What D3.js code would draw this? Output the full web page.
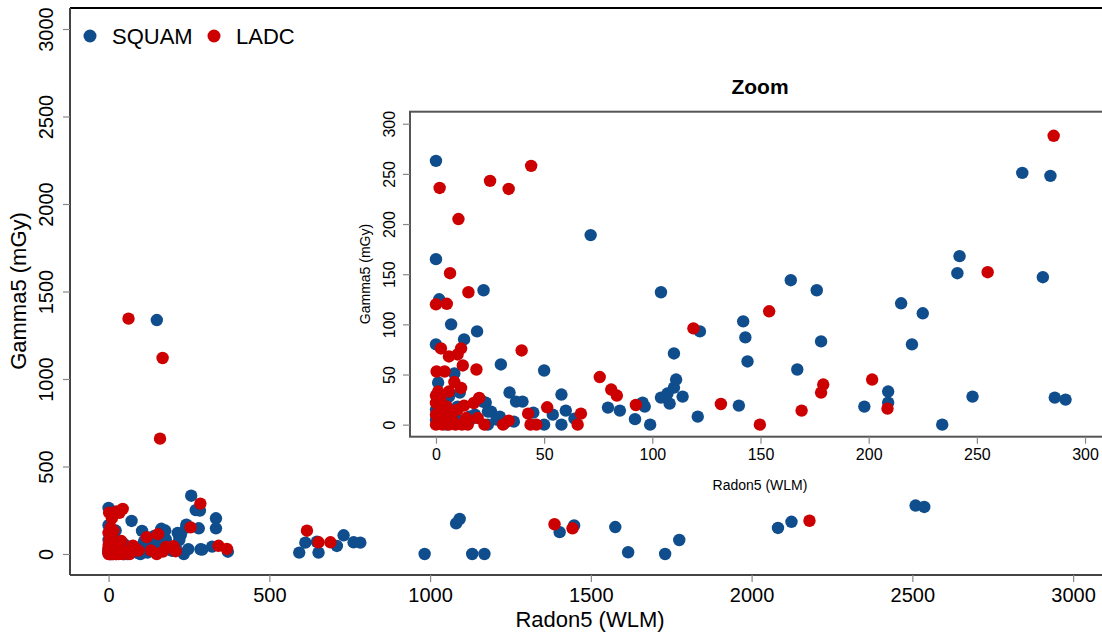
<!DOCTYPE html>
<html>
<head>
<meta charset="utf-8">
<script src="https://cdn.jsdelivr.net/npm/d3@7"></script>
<style>
  body { margin: 0; background: #fff; }
  svg { font-family: "Liberation Sans", Arial, sans-serif; }
</style>
</head>
<body>
<svg id="chart" width="1102" height="636"></svg>
<script>
// [radon (WLM), gamma (mGy)] pairs
let squam = [
  [0,263],[0,165],[1.5,125],[7,100],[0,80],[13,85],[19,93],[22,134],[71.5,189],[30,60],
  [50,54],[1,42],[8.5,51],[11,32],[34,32],[37,23],[40,23],[23,22],[25.5,13],[29.5,8],
  [36,3],[45,12],[50,0],[54,10],[58,30],[60,14],[58,0],[64,6],[24,0],[9,12],[15.5,8],
  [79.5,17],[85,14],[104,132],[271,251],[284,248],[242,168],[241,151],[280.5,147],
  [164,144],[176,134],[215,121],[225,111],[220,80],[142,103],[143,87],[144,63],[178,83],
  [122,93],[110,71],[167,55],[111,45],[110,37],[107,31],[104,27],[108,21],[114,28],
  [95.5,22],[96.5,18],[92,5.5],[99,0],[121,8],[140,19],[198,18],[209,33],[209,22],
  [234,0],[248,28],[286,27],[291,25],
  [0,15],[0,5],[2,10],[5,0],[8.5,8],[12,3],[18,10],[21.6,23],[24,13],[3,20],[6,28],
  [10,18],[16,5],[28,5],[32,2],
  [150,1337],[257,333],[334,204],[334,147],[371,13],[322,42],[593,8],[612,65],[648,70],
  [653,8],[731,107],[710,46],[762,67],[783,65],[983,0],[1081,175],[1092,200],[1131,0],
  [1169,0],[1403,125],[1448,163],[1576,154],[1616,10],[1731,0],[1775,80],[2082,149],
  [2124,184],[2510,277],[2537,269]
];
let ladc = [
  [1.7,236],[25,243],[33.6,235],[44,258],[10.4,205],[6.5,151],[15,132],[0,120],[5,120.5],
  [2.3,76],[6,68],[10,70],[11.6,76],[12.4,59],[18.7,55],[39.6,74],[0.3,53],[4,53],
  [8.5,42.5],[11.6,36.6],[0,29],[6,33],[13,19],[17.5,21.6],[20,26.6],[0,21.6],[3,15],
  [0,10],[4,10],[1.5,5],[6,0],[0,0],[7,10],[14,6.6],[14.7,0],[19.3,6.6],[22.4,0],[31,0],
  [33.6,4],[42.6,11],[43.7,0],[46.4,0],[51.4,17.3],[65.5,0],[67,11],[75.7,47.5],[81,35],
  [83.6,29],[285.5,288],[255,152],[154,113],[119,96],[201.6,45],[179,40],[178,32],
  [169,14],[208.7,16],[149.7,0],[131.7,20.6],[92.4,19.6],
  [2,25],[5,18],[8,3],[10,15],[3,0],[9,0],[1,33],[12,0],
  [62,1345],[168,1120],[160,659],[342,47],[368,29],[617,133],[653,67],[690,67],
  [1387,170],[1443,147],[2180,190]
];
let mainTicks = [0, 500, 1000, 1500, 2000, 2500, 3000];
let zoomTicks = [0, 50, 100, 150, 200, 250, 300];
let groups = ["SQUAM", "LADC"];
let colors = ["#0f4d8c", "#cc0000"];

let svg = d3.select("#chart");

function panel(box, xDomain, yDomain) {
    let x = d3.scaleLinear().domain(xDomain).range([box.left, box.right]);
    let y = d3.scaleLinear().domain(yDomain).range([box.bottom, box.top]);
    return {x, y};
}

function drawPoints(g, sc, data, color, inRange) {
    g.selectAll(null)
        .data(data.filter(inRange))
        .enter().append("circle")
        .attr("cx", d => sc.x(d[0]))
        .attr("cy", d => sc.y(d[1]))
        .attr("r", 6.2)
        .attr("fill", color);
}

function drawAxes(sc, box, ticks, opt) {
    let xa = svg.append("g")
        .attr("transform", "translate(0," + box.bottom + ")")
        .call(d3.axisBottom(sc.x).tickValues(ticks).tickSize(opt.tick).tickPadding(opt.pad).tickFormat(d3.format("d")));
    let ya = svg.append("g")
        .attr("transform", "translate(" + box.left + ",0)")
        .call(d3.axisLeft(sc.y).tickValues(ticks).tickSize(opt.tick).tickFormat(d3.format("d")));
    [xa, ya].forEach(a => {
        a.select(".domain").remove();
        a.selectAll(".tick line").attr("stroke", "#888").attr("stroke-width", 1.2);
        a.selectAll(".tick text").attr("font-size", opt.font).attr("fill", "#000");
    });
    // R style: y labels turned to run up the axis
    ya.selectAll(".tick text")
        .attr("text-anchor", "middle")
        .attr("x", -opt.ylab)
        .attr("y", 0)
        .attr("dy", "0.35em")
        .attr("transform", "rotate(-90," + (-opt.ylab) + ",0)");
}

// main plot
let mainBox = {left: 70, right: 1111.7, top: 8, bottom: 575};
let m = panel(mainBox, [-120, 3120], [-120, 3120]);

let mainG = svg.append("g");
drawPoints(mainG, m, squam, colors[0], d => true);
drawPoints(mainG, m, ladc, colors[1], d => true);

svg.append("line").attr("x1", mainBox.left).attr("x2", mainBox.right)
    .attr("y1", mainBox.top).attr("y2", mainBox.top).attr("stroke", "#000").attr("stroke-width", 2);
svg.append("line").attr("x1", mainBox.left).attr("x2", mainBox.left)
    .attr("y1", mainBox.top).attr("y2", mainBox.bottom).attr("stroke", "#444").attr("stroke-width", 2);
svg.append("line").attr("x1", mainBox.left).attr("x2", mainBox.right)
    .attr("y1", mainBox.bottom).attr("y2", mainBox.bottom).attr("stroke", "#444").attr("stroke-width", 2);

drawAxes(m, mainBox, mainTicks, {tick: 7, pad: 6, font: 20, ylab: 24.5});

svg.append("text").attr("x", 590).attr("y", 627).attr("text-anchor", "middle")
    .attr("font-size", 22).text("Radon5 (WLM)");
svg.append("text").attr("transform", "translate(26,291) rotate(-90)").attr("text-anchor", "middle")
    .attr("font-size", 22).text("Gamma5 (mGy)");

// legend
let leg = svg.append("g");
groups.forEach((name, i) => {
    let lx = [90, 214][i];
    leg.append("circle").attr("cx", lx).attr("cy", 36).attr("r", 6.5).attr("fill", colors[i]);
    leg.append("text").attr("x", lx + 22).attr("y", 44).attr("font-size", 22).text(name);
});

// inset "Zoom"
let zBox = {left: 410, right: 1111, top: 111.7, bottom: 436.7};
let z = panel(zBox, [-12, 312], [-12, 312]);

svg.append("rect").attr("x", zBox.left).attr("y", zBox.top)
    .attr("width", zBox.right - zBox.left).attr("height", zBox.bottom - zBox.top)
    .attr("fill", "#fff");

let zG = svg.append("g");
let inZoom = d => d[0] <= 312 && d[1] <= 312;
drawPoints(zG, z, squam, colors[0], inZoom);
drawPoints(zG, z, ladc, colors[1], inZoom);

svg.append("rect").attr("x", zBox.left).attr("y", zBox.top)
    .attr("width", zBox.right - zBox.left).attr("height", zBox.bottom - zBox.top)
    .attr("fill", "none").attr("stroke", "#555").attr("stroke-width", 2);

drawAxes(z, zBox, zoomTicks, {tick: 7, pad: 5, font: 16, ylab: 21});

svg.append("text").attr("x", 760).attr("y", 94).attr("text-anchor", "middle")
    .attr("font-size", 21).attr("font-weight", "bold").text("Zoom");
svg.append("text").attr("x", 760).attr("y", 490).attr("text-anchor", "middle")
    .attr("font-size", 14).text("Radon5 (WLM)");
svg.append("text").attr("transform", "translate(370,274) rotate(-90)").attr("text-anchor", "middle")
    .attr("font-size", 14).text("Gamma5 (mGy)");
</script>
</body>
</html>
